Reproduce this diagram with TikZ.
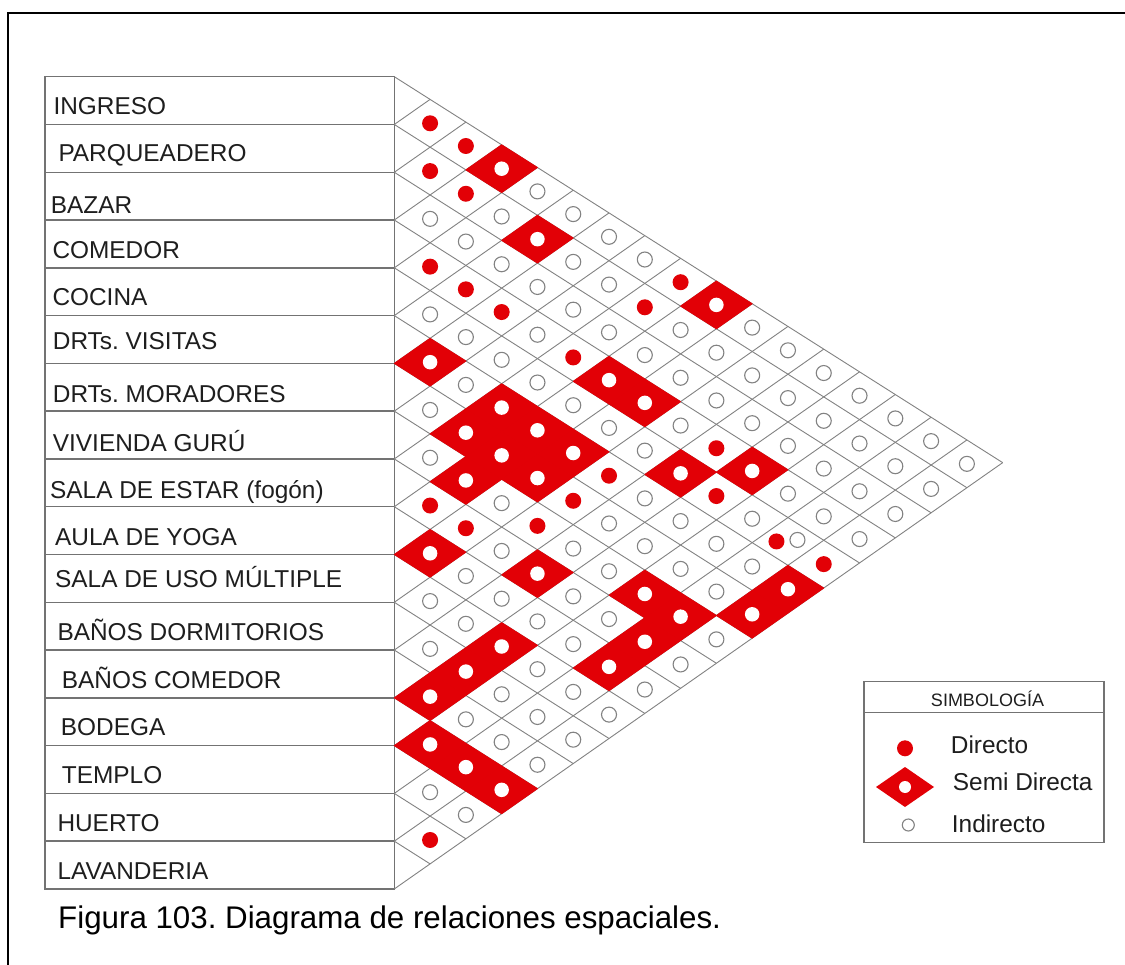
\documentclass[tikz,border=0pt]{standalone}
\usepackage{fontspec}
\setmainfont{Liberation Sans}
\usetikzlibrary{shapes.geometric}
\definecolor{rred}{RGB}{226,0,6}
\definecolor{gline}{RGB}{130,130,130}
\definecolor{tline}{RGB}{115,115,115}
\definecolor{txt}{RGB}{30,30,30}
\begin{document}
\frenchspacing
\begin{tikzpicture}[x=1pt,y=-1pt,
  declare function={px(\a,\b)=394.3+(\b-\a)*35.787; py(\a,\b)=76.7+47.78*\a+22.703*(\b-\a);},
  gridline/.style={draw=gline,line width=0.9pt},
  tableline/.style={draw=tline,line width=1.4pt},
  lbl/.style={anchor=base west,inner sep=0pt,text=txt,font=\fontsize{24.4}{28}\selectfont},
  legtxt/.style={anchor=base west,inner sep=0pt,text=txt,font=\fontsize{24.4}{28}\selectfont},
  dirdot/.style={circle,fill=rred,minimum size=16pt,inner sep=0pt},
  inddot/.style={circle,draw=gline,line width=1.1pt,fill=white,minimum size=15pt,inner sep=0pt},
  whitedot/.style={circle,fill=white,minimum size=14.5pt,inner sep=0pt},
  semicell/.style={fill=rred,draw=rred,line width=0.8pt,line join=round}
]
\fill[white] (0,0) rectangle (1125,965);
\useasboundingbox (0,0) rectangle (1125,965);
% frame
\draw[line width=2.2pt,black] (8,965) -- (8,13) -- (1125,13);
% table
\draw[tableline] (45,76.7) rectangle (394.3,889);
\foreach \k in {1,...,16}{
  \draw[tableline] (45,{76.7+47.78*\k}) -- (394.3,{76.7+47.78*\k});
}
% labels
\node[lbl] (l0) at (53.3,115) {INGRESO};
\node[lbl] (l1) at (58.3,161.7) {PARQUEADERO};
\node[lbl] (l2) at (50.7,213.3) {BAZAR};
\node[lbl] (l3) at (52.3,259) {COMEDOR};
\node[lbl] (l4) at (52.3,306) {COCINA};
\node[lbl] (l5) at (52.7,350) {DRTs. VISITAS};
\node[lbl] (l6) at (52.7,403) {DRTs. MORADORES};
\node[lbl] (l7) at (52.7,451.7) {VIVIENDA GURÚ};
\node[lbl] (l8) at (50,498.3) {SALA DE ESTAR (fogón)};
\node[lbl] (l9) at (55,545) {AULA DE YOGA};
\node[lbl] (l10) at (55,587.3) {SALA DE USO MÚLTIPLE};
\node[lbl] (l11) at (57.3,640.7) {BAÑOS DORMITORIOS};
\node[lbl] (l12) at (61.7,688.3) {BAÑOS COMEDOR};
\node[lbl] (l13) at (60.7,735) {BODEGA};
\node[lbl] (l14) at (61.7,783.3) {TEMPLO};
\node[lbl] (l15) at (57.3,831.7) {HUERTO};
\node[lbl] (l16) at (57.3,879.3) {LAVANDERIA};
% diagonal grid
\foreach \k in {0,...,16}{
  \draw[gridline] ({px(\k,\k)},{py(\k,\k)}) -- ({px(\k,17)},{py(\k,17)});
}
\foreach \k in {1,...,17}{
  \draw[gridline] ({px(\k,\k)},{py(\k,\k)}) -- ({px(0,\k)},{py(0,\k)});
}
% semi-direct cells
\foreach \i/\j in {5/6,9/10,12/13,13/14,6/8,7/9,11/13,13/15,0/3,5/8,6/9,10/13,13/16,1/5,5/9,6/10,8/12,5/10,3/9,9/15,3/10,7/14,8/15,4/12,7/15,0/9,3/13,6/16,5/16}{
  \expandafter\xdef\csname rcX\i X\j\endcsname{1}
  \filldraw[semicell] ({px(\i,\j)},{py(\i,\j)}) -- ({px(\i,\j+1)},{py(\i,\j+1)}) -- ({px(\i+1,\j+1)},{py(\i+1,\j+1)}) -- ({px(\i+1,\j)},{py(\i+1,\j)}) -- cycle;
}
\foreach \i/\j in {5/6,9/10,12/13,13/14,6/8,7/9,11/13,13/15,0/3,5/8,6/9,10/13,13/16,1/5,5/9,6/10,8/12,5/10,3/9,9/15,3/10,7/14,8/15,4/12,7/15,0/9,3/13,6/16,5/16}{
  \node[whitedot] (c-\i-\j) at ({px(\i+0.5,\j+0.5)},{py(\i+0.5,\j+0.5)}) {};
}
% direct cells
\foreach \i/\j in {0/1,1/2,3/4,8/9,15/16,0/2,1/3,3/5,8/10,3/6,7/11,3/8,6/11,5/11,1/8,0/8,3/12,4/13,4/16}{
  \expandafter\xdef\csname rcX\i X\j\endcsname{1}
  \node[dirdot] (c-\i-\j) at ({px(\i+0.5,\j+0.5)},{py(\i+0.5,\j+0.5)}) {};
}
% special cell
\expandafter\xdef\csname rcX4X15\endcsname{1}
\node[dirdot] (c-4-15a) at ({px(4.5,15.5)-11.5},{py(4.5,15.5)}) {};
\node[inddot] (c-4-15b) at ({px(4.5,15.5)+9.5},{py(4.5,15.5)-1.5}) {};
% indirect cells
\foreach \i in {0,...,15}{
  \pgfmathtruncatemacro\ii{\i+1}
  \foreach \j in {\ii,...,16}{
    \ifcsname rcX\i X\j\endcsname\else
      \node[inddot] (c-\i-\j) at ({px(\i+0.5,\j+0.5)},{py(\i+0.5,\j+0.5)}) {};
    \fi
  }
}
% legend
\draw[tableline] (864,681.7) rectangle (1104,842.3);
\draw[tableline] (864,712.7) -- (1104,712.7);
\node[anchor=base,inner sep=0pt,text=txt,font=\fontsize{18}{20}\selectfont] (simb) at (987.5,706.7) {SIMBOLOGÍA};
\node[dirdot] (legd) at (905,748.3) {};
\node[legtxt] (legdt) at (950.7,753) {Directo};
\fill[rred] (876,787) -- (905,767) -- (934,787) -- (905,807) -- cycle;
\node[whitedot,minimum size=12pt] (legs) at (905,787) {};
\node[legtxt] (legst) at (952.7,790) {Semi Directa};
\node[inddot,minimum size=12pt] (legi) at (908.3,825) {};
\node[legtxt] (legit) at (951.7,832.7) {Indirecto};
% caption
\node[anchor=base west,inner sep=0pt,text=black,font=\fontsize{31.3}{36}\selectfont] (cap) at (58,928) {Figura 103. Diagrama de relaciones espaciales.};
\end{tikzpicture}
\end{document}
